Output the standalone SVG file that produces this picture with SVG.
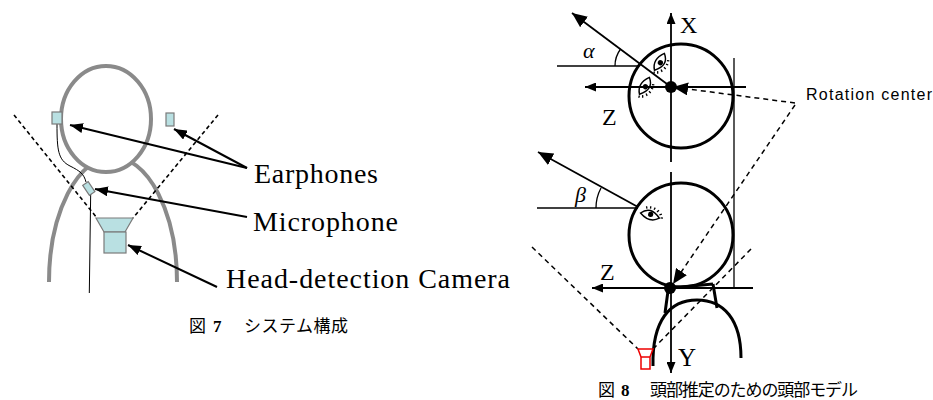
<svg xmlns="http://www.w3.org/2000/svg" width="933" height="400" viewBox="0 0 933 400">
  <style>
    .body { fill: none; stroke: #8a8a8a; stroke-width: 4; }
    .dev { fill: #b9e0e2; stroke: #7a7a7a; stroke-width: 1.2; }
    .ptr { fill: none; stroke: #000; stroke-width: 2; }
    .fov { fill: none; stroke: #000; stroke-width: 1.6; stroke-dasharray: 4 3; }
    .lbl { font-family: "Liberation Serif", "Times New Roman", serif; fill: #000; }
    .cap { font-family: "Noto Sans CJK JP", "Noto Sans", sans-serif; fill: #000; font-size: 17px; }
    .num { font-family: "Liberation Serif", "Times New Roman", serif; font-weight: bold; font-size: 17px; fill: #000; }
    .head { fill: none; stroke: #000; stroke-width: 3; }
    .ax { fill: none; stroke: #000; stroke-width: 1.8; }
    .thin { fill: none; stroke: #000; stroke-width: 1.3; }
    .dash { fill: none; stroke: #000; stroke-width: 1.5; stroke-dasharray: 5 4; }
  </style>
  <defs>
    <marker id="ah" markerUnits="userSpaceOnUse" markerWidth="13" markerHeight="10" refX="13" refY="5" orient="auto">
      <path d="M0,0 L13,5 L0,10 Z" fill="#000"/>
    </marker>
    <marker id="axh" markerUnits="userSpaceOnUse" markerWidth="11" markerHeight="9" refX="11" refY="4.5" orient="auto">
      <path d="M0,0 L11,4.5 L0,9 Z" fill="#000"/>
    </marker>
    <marker id="big" markerUnits="userSpaceOnUse" markerWidth="15" markerHeight="13" refX="15" refY="6.5" orient="auto">
      <path d="M0,0 L15,6.5 L0,13 Z" fill="#000"/>
    </marker>
    <g id="eye">
      <path d="M-8,-1 Q0,-8 8,2 Q0,7 -8,-1 Z" fill="#fff" stroke="#000" stroke-width="1.2"/>
      <circle cx="0.5" cy="-0.5" r="2.2" fill="#000"/>
      <path d="M-3,-5 l-0.5,-2 M0,-5.3 l0,-2 M3,-4.6 l0.8,-1.9 M5.6,-3 l1.5,-1.5 M7.8,-0.8 l2,-0.7 M9,1.6 l2,0" stroke="#000" stroke-width="1.1" fill="none"/>
    </g>
  </defs>

  <!-- system configuration: wearer with earphones, microphone and camera -->
  <g id="wearer">
    <path class="body" d="M49,282 A64,125 0 0 1 177,282"/>
    <ellipse cx="106" cy="119" rx="45" ry="53" fill="#fff" stroke="#8a8a8a" stroke-width="4"/>
  </g>
  <g id="camera-fov">
    <line class="fov" x1="14" y1="115" x2="97" y2="218"/>
    <line class="fov" x1="218" y1="115" x2="133" y2="218"/>
  </g>
  <g id="cable">
    <path d="M57,124 C57,150 58,160 70,166 C80,171 84,174 86,182" fill="none" stroke="#000" stroke-width="1"/>
    <line x1="90.7" y1="193" x2="89.3" y2="293" stroke="#000" stroke-width="1"/>
  </g>
  <g id="earphone-left"><rect class="dev" x="52" y="112" width="10" height="12"/></g>
  <g id="earphone-right"><rect class="dev" x="166" y="113" width="8" height="13"/></g>
  <g id="microphone"><rect class="dev" x="-3.3" y="-6" width="6.6" height="12" transform="translate(88.8,188.5) rotate(-34)"/></g>
  <g id="head-camera">
    <polygon class="dev" points="96,218 133,218 125,232 104,232"/>
    <rect class="dev" x="104" y="232" width="22" height="21"/>
  </g>
  <g id="pointers">
    <line class="ptr" x1="247" y1="168" x2="70" y2="125" marker-end="url(#ah)"/>
    <line class="ptr" x1="247" y1="168" x2="174" y2="129" marker-end="url(#ah)"/>
    <line class="ptr" x1="247" y1="217" x2="95" y2="189" marker-end="url(#ah)"/>
    <line class="ptr" x1="217" y1="287" x2="128" y2="245" marker-end="url(#ah)"/>
  </g>
  <g id="labels-left">
    <text class="lbl" x="254" y="183" font-size="28" textLength="124" lengthAdjust="spacing">Earphones</text>
    <text class="lbl" x="253" y="231" font-size="28" textLength="145" lengthAdjust="spacing">Microphone</text>
    <text class="lbl" x="226" y="288" font-size="28" textLength="284" lengthAdjust="spacing">Head-detection Camera</text>
  </g>
  <g id="caption-7">
    <text class="cap" x="189" y="332">図</text>
    <text class="num" x="213" y="332">7</text>
    <text class="cap" x="244" y="332" textLength="104" lengthAdjust="spacing">システム構成</text>
  </g>

  <!-- head model: top view (yaw) and side view (pitch) -->
  <g id="head-top">
    <circle class="head" cx="681" cy="96" r="52"/>
    <line class="thin" x1="557" y1="66" x2="638" y2="66"/>
    <path class="thin" d="M615,66 A28,28 0 0 1 620.6,49"/>
    <use href="#eye" transform="translate(660,62) rotate(110) scale(1.2)"/>
    <use href="#eye" transform="translate(645,86) rotate(110) scale(1.2)"/>
    <text class="lbl" x="583" y="58" font-size="22" font-style="italic">α</text>
  </g>
  <g id="head-side">
    <circle class="head" cx="681" cy="235" r="52"/>
    <line class="thin" x1="537" y1="208" x2="638" y2="208"/>
    <path class="thin" d="M596,208 A42,42 0 0 1 601,188"/>
    <use href="#eye" transform="translate(650,215) rotate(5) scale(1.2)"/>
    <text class="lbl" x="575" y="202" font-size="22" font-style="italic">β</text>
    <path class="head" d="M670,288 L713,284 M668,291 L665,313 M713,284 L717,308"/>
    <path class="head" d="M653,366 C652,320 670,300 697,300 C724,300 741,320 741,358"/>
  </g>
  <g id="axes">
    <line class="ax" x1="671" y1="162" x2="671" y2="13" marker-end="url(#axh)"/>
    <line class="ax" x1="746" y1="87" x2="585" y2="87" marker-end="url(#axh)"/>
    <line class="ax" x1="671" y1="172" x2="671" y2="373" marker-end="url(#axh)"/>
    <line class="ax" x1="753" y1="288" x2="592" y2="288" marker-end="url(#axh)"/>
    <line class="thin" x1="734" y1="58" x2="734" y2="288"/>
    <line class="ax" x1="671" y1="87" x2="572" y2="13" marker-end="url(#big)"/>
    <line class="ax" x1="638" y1="207" x2="538" y2="152" marker-end="url(#big)"/>
    <circle cx="671" cy="87" r="6" fill="#000"/>
    <circle cx="670" cy="288" r="6" fill="#000"/>
    <text class="lbl" x="680" y="33" font-size="24">X</text>
    <text class="lbl" x="602" y="125" font-size="24">Z</text>
    <text class="lbl" x="600" y="280" font-size="24">Z</text>
    <text class="lbl" x="678" y="366" font-size="25">Y</text>
  </g>
  <g id="rotation-center">
    <line class="dash" x1="795" y1="103" x2="673" y2="87" marker-end="url(#big)"/>
    <line class="dash" x1="795" y1="105" x2="673" y2="284" marker-end="url(#big)"/>
    <text x="806" y="100" font-family="Liberation Sans, Arial, sans-serif" font-size="16" textLength="126" lengthAdjust="spacing">Rotation center</text>
  </g>
  <g id="side-camera">
    <line class="dash" x1="532" y1="247" x2="638" y2="349"/>
    <line class="dash" x1="653" y1="349" x2="752" y2="248"/>
    <path d="M638,349 L653,349 L650,357 L641,357 Z M641,357 L650,357 L650,369 L641,369 Z" fill="none" stroke="#e00" stroke-width="1.5"/>
  </g>
  <g id="caption-8">
    <text class="cap" x="598" y="396">図</text>
    <text class="num" x="621" y="396">8</text>
    <text class="cap" x="650" y="396" textLength="208" lengthAdjust="spacing">頭部推定のための頭部モデル</text>
  </g>
</svg>
